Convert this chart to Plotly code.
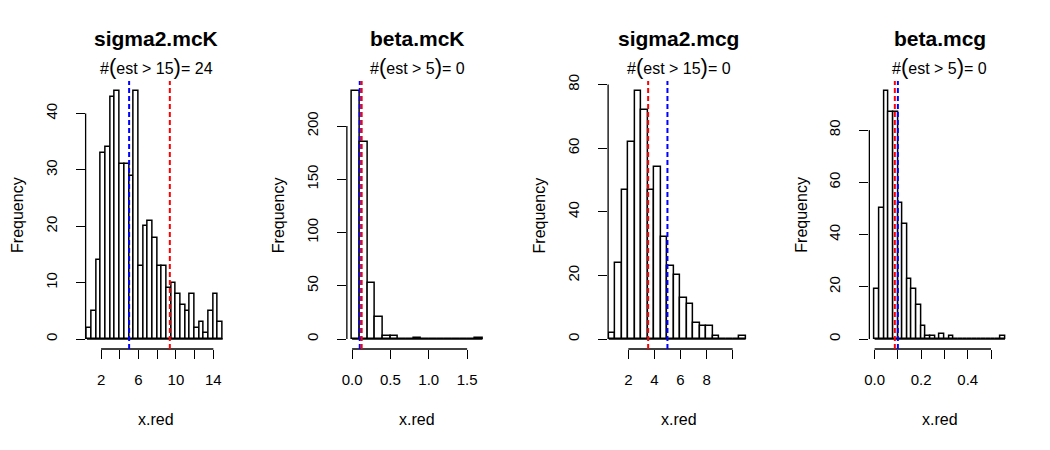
import plotly.graph_objects as go

# ---------------- data ----------------
titles = ["sigma2.mcK", "beta.mcK", "sigma2.mcg", "beta.mcg"]
thresholds = [15, 5, 15, 5]
n_exceed = [24, 0, 0, 0]

bin_start = [0.5, 0.0, 0.5, 0.0]
bin_width = [0.5, 0.1, 0.5, 0.02]

counts_sigma2_mcK = [2, 5, 14, 33, 34, 43, 44, 31, 31, 29, 44, 13, 20, 21, 18,
                     13, 13, 9, 10, 8, 6, 5, 8, 2, 3, 1, 5, 8, 3]
counts_beta_mcK = [233, 185, 53, 21, 3, 3, 0, 0, 1, 0, 0, 0, 0, 0, 0, 0, 1]
counts_sigma2_mcg = [2, 24, 47, 62, 78, 72, 47, 54, 32, 23, 20, 13, 11, 5, 4, 4,
                     1, 0, 0, 0, 1]
counts_beta_mcg = [19, 50, 95, 87, 87, 52, 44, 23, 19, 13, 5, 1, 1, 0, 2, 0, 1,
                   0, 0, 0, 0, 0, 0, 0, 0, 0, 0, 1]
counts = [counts_sigma2_mcK, counts_beta_mcK, counts_sigma2_mcg, counts_beta_mcg]

red_line = [9.35, 0.125, 3.52, 0.087]   # estimate summary
blue_line = [5.0, 0.1, 5.0, 0.1]        # true value

x_tickvals = [[2, 4, 6, 8, 10, 12, 14], [0, 0.5, 1.0, 1.5], [2, 4, 6, 8, 10],
              [0, 0.1, 0.2, 0.3, 0.4, 0.5]]
x_ticktext = [["2", "", "6", "", "10", "", "14"], ["0.0", "0.5", "1.0", "1.5"],
              ["2", "4", "6", "8", ""], ["0.0", "", "0.2", "", "0.4", ""]]
y_tickvals = [[0, 10, 20, 30, 40], [0, 50, 100, 150, 200], [0, 20, 40, 60, 80],
              [0, 20, 40, 60, 80]]
x_ranges = [[0.35, 15.4], [-0.068, 1.768], [0.45, 11.25], [-0.0224, 0.5824]]

# ---------------- layout geometry ----------------
W, H = 1050, 450
T, B = 81, 101
PH = H - T - B
PANEL = 262.5
PLEFT = 81
PW = 141.5
FONT = "Liberation Sans, Arial, sans-serif"


def xp(px):
    return px / W


def yp(py):
    return 1 - (py - T) / PH


fig = go.Figure()
shapes = []
annotations = []
layout_axes = {}

for i in range(4):
    n = i + 1
    xs = "" if n == 1 else str(n)
    xa, ya = "x" + xs, "y" + xs
    c = counts[i]
    bw = bin_width[i]
    centers = [bin_start[i] + bw * (k + 0.5) for k in range(len(c))]
    x_end = bin_start[i] + bw * len(c)

    fig.add_trace(go.Bar(x=centers, y=c, width=bw, xaxis=xa, yaxis=ya,
                         marker=dict(color="white", line=dict(color="black", width=1.5)),
                         showlegend=False, hoverinfo="skip"))
    fig.add_trace(go.Scatter(x=[bin_start[i], x_end], y=[0, 0], mode="lines",
                             xaxis=xa, yaxis=ya, line=dict(color="black", width=1.5),
                             showlegend=False, hoverinfo="skip"))

    left = PLEFT + PANEL * i
    ymax = max(c)
    layout_axes["xaxis" + xs] = dict(
        domain=[xp(left), xp(left + PW)], range=x_ranges[i], anchor=ya,
        showgrid=False, zeroline=False, showline=False,
        tickmode="array", tickvals=x_tickvals[i], ticktext=x_ticktext[i],
        ticks="outside", ticklen=9, tickwidth=1.3, tickcolor="black",
        ticklabelstandoff=8,
        tickfont=dict(family=FONT, size=15, color="black"))
    layout_axes["yaxis" + xs] = dict(
        domain=[0, 1], range=[-0.04 * ymax, 1.04 * ymax], anchor=xa,
        showgrid=False, zeroline=False, showline=False,
        tickmode="array", tickvals=y_tickvals[i],
        ticktext=[str(v) for v in y_tickvals[i]],
        ticks="outside", ticklen=9, tickwidth=1.3, tickcolor="black",
        tickangle=-90, ticklabelstandoff=13,
        tickfont=dict(family=FONT, size=15, color="black"))

    # axis lines (R style: from first to last tick)
    shapes.append(dict(type="line", xref=xa, yref=ya + " domain",
                       x0=x_tickvals[i][0], x1=x_tickvals[i][-1], y0=0, y1=0,
                       line=dict(color="black", width=1.3)))
    shapes.append(dict(type="line", xref=xa + " domain", yref=ya,
                       x0=0, x1=0, y0=y_tickvals[i][0], y1=y_tickvals[i][-1],
                       line=dict(color="black", width=1.3)))
    # reference lines
    shapes.append(dict(type="line", xref=xa, yref=ya + " domain",
                       x0=blue_line[i], x1=blue_line[i], y0=0, y1=1,
                       line=dict(color="#0000FF", width=2, dash="5px,3px")))
    shapes.append(dict(type="line", xref=xa, yref=ya + " domain",
                       x0=red_line[i], x1=red_line[i], y0=0, y1=1,
                       line=dict(color="#FF0000", width=2, dash="5px,3px")))

    cx = left + PW / 2
    annotations.append(dict(text="<b>" + titles[i] + "</b>", xref="paper", yref="paper",
                            x=xp(cx), y=yp(39), xanchor="center", yanchor="middle",
                            showarrow=False, font=dict(family=FONT, size=21, color="black")))
    sub = ("#<span style='font-size:22px'>(</span>est &gt; " + str(thresholds[i]) +
           "<span style='font-size:22px'>)</span>= " + str(n_exceed[i]))
    annotations.append(dict(text=sub, xref="paper", yref="paper",
                            x=xp(cx), y=yp(67), xanchor="center", yanchor="middle",
                            showarrow=False, font=dict(family=FONT, size=16, color="black")))
    annotations.append(dict(text="x.red", xref="paper", yref="paper",
                            x=xp(cx), y=yp(419), xanchor="center", yanchor="middle",
                            showarrow=False, font=dict(family=FONT, size=16, color="black")))
    annotations.append(dict(text="Frequency", xref="paper", yref="paper",
                            x=xp(12 + PANEL * i), y=yp(215), xanchor="center",
                            yanchor="middle", textangle=-90,
                            showarrow=False, font=dict(family=FONT, size=16, color="black")))

fig.update_layout(
    width=W, height=H,
    margin=dict(l=0, r=0, t=T, b=B, pad=0),
    paper_bgcolor="white", plot_bgcolor="rgba(0,0,0,0)",
    bargap=0, barmode="overlay",
    shapes=shapes, annotations=annotations,
    showlegend=False,
    font=dict(family=FONT, color="black"),
    **layout_axes,
)

fig.write_html("out.html")
